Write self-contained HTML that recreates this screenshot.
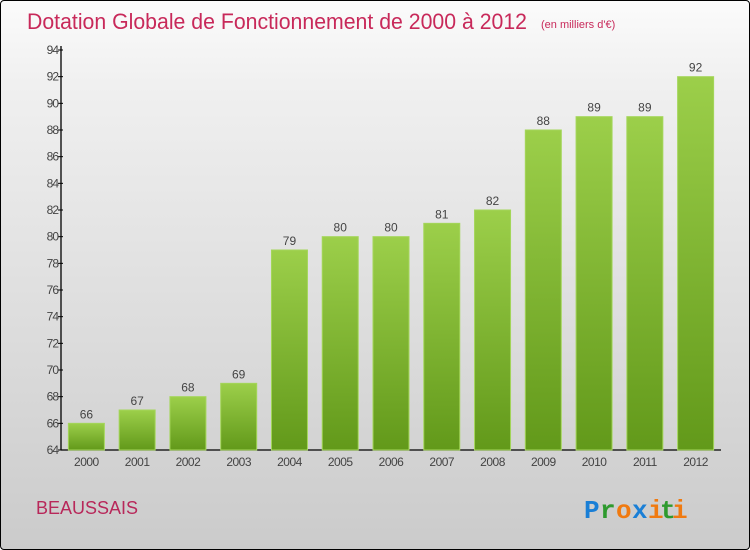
<!DOCTYPE html>
<html><head><meta charset="utf-8"><style>
html,body{margin:0;padding:0}
body{width:750px;height:550px;overflow:hidden;font-family:"Liberation Sans",sans-serif}
#frame{position:absolute;left:0;top:0;width:748px;height:548px;border:1px solid #000;border-radius:4px;background:linear-gradient(#fbfbfb,#f0f0f0 15%,#cbcbcb);}
</style></head><body>
<div id="frame">
<svg width="750" height="550" style="position:absolute;left:-1px;top:-1px">
<defs><linearGradient id="g" x1="0" y1="0" x2="0" y2="1"><stop offset="0" stop-color="#9ccf4a"/><stop offset="1" stop-color="#62991a"/></linearGradient></defs>
<text x="27" y="29" font-size="22" fill="#c8295a" textLength="500" lengthAdjust="spacingAndGlyphs">Dotation Globale de Fonctionnement de 2000 à 2012</text>
<text x="541" y="28" font-size="11" fill="#c8295a">(en milliers d'€)</text>
<g id="axes"></g><g id="bars"></g>
<text x="36" y="514" font-size="18" fill="#b8285a">BEAUSSAIS</text>
<g font-size="26" font-weight="bold" font-family="Liberation Mono,monospace">
<text x="584" y="518" fill="#1a7fd6">P</text><text x="600" y="518" fill="#2e9a2e">r</text><text x="616" y="518" fill="#f07a10">o</text><text x="632" y="518" fill="#1a7fd6">x</text><text x="648" y="518" fill="#f07a10">i</text><text x="660" y="518" fill="#2e9a2e">t</text><text x="672" y="518" fill="#f07a10">i</text></g>
</svg></div>
<script>
const years=["2000","2001","2002","2003","2004","2005","2006","2007","2008","2009","2010","2011","2012"];
const values=[66,67,68,69,79,80,80,81,82,88,89,89,92];
const yTicks=[64,66,68,70,72,74,76,78,80,82,84,86,88,90,92,94];
const NS="http://www.w3.org/2000/svg";
const x0=61,x1=721,yTop=50,yBot=450,vMin=64,vMax=94;
const y=v=>yBot-(v-vMin)/(vMax-vMin)*(yBot-yTop);
const band=(x1-x0)/years.length;
const xc=i=>x0+band*(i+0.5);
function mk(t,a,p){const e=document.createElementNS(NS,t);for(const k in a)e.setAttribute(k,a[k]);p.appendChild(e);return e;}
const ax=document.getElementById('axes'),bg=document.getElementById('bars');
let l=mk('line',{x1:x0,y1:yTop-4,x2:x0,y2:yBot,stroke:'#000','stroke-width':1.3},ax);


l=mk('line',{x1:x0,y1:yBot,x2:x1,y2:yBot,stroke:'#000','stroke-width':1.3},ax);


yTicks.forEach(v=>{mk('line',{x1:x0-3,x2:x0+2,y1:y(v),y2:y(v),stroke:'#000'},ax);
const t=mk('text',{x:x0-3,y:y(v)+4,'text-anchor':'end','font-size':12,fill:'#444','letter-spacing':'-1'},ax);t.textContent=v;

});
years.forEach((yr,i)=>{const w=36,cx=xc(i),v=values[i];
const r=mk('rect',{x:cx-w/2,y:y(v),width:w,height:yBot-y(v),fill:'url(#g)',stroke:'#a4d65a','stroke-width':1},bg);


const t=mk('text',{x:cx,y:y(v)-5,'text-anchor':'middle','font-size':12,fill:'#444'},bg);t.textContent=v;


const xt=mk('text',{x:cx,y:466,'text-anchor':'middle','font-size':12,fill:'#444','letter-spacing':'-0.5'},ax);xt.textContent=yr;

});
</script>
</body></html>
